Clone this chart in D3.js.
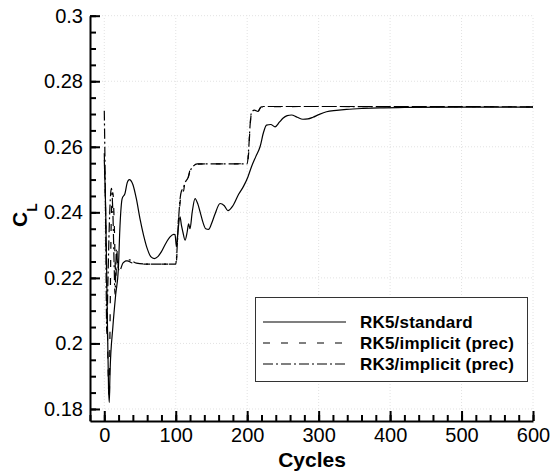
<!DOCTYPE html>
<html>
<head>
<meta charset="utf-8">
<script src="https://cdn.jsdelivr.net/npm/d3@7"></script>
<style>
  body { margin: 0; background: #fff; }
  text { font-family: Arial, "Liberation Sans", sans-serif; }
</style>
</head>
<body>
<div id="chart"></div>
<script>
// data: [cycle, CL]
var rk5Standard = [
  [0, 0.256], [2, 0.240], [4, 0.212], [6, 0.186], [7, 0.182], [8, 0.191], [12, 0.205],
  [16, 0.215], [19.6, 0.2224], [22, 0.236], [25, 0.2442], [29, 0.2458], [32, 0.249],
  [35, 0.250], [40, 0.2485], [45, 0.244], [50, 0.238], [55, 0.233], [60, 0.229],
  [65, 0.2265], [70, 0.2259], [75, 0.2265], [80, 0.228], [86, 0.2305], [92, 0.2325],
  [97, 0.2333], [99, 0.2332], [101, 0.2295], [103, 0.234], [106, 0.2386], [108, 0.236],
  [110, 0.234], [113, 0.2315], [116, 0.234], [118, 0.2365], [120, 0.235], [123, 0.240],
  [127, 0.2442], [131, 0.2425], [134, 0.2402], [138, 0.237], [142, 0.235], [146, 0.2348],
  [150, 0.2365], [155, 0.2395], [162, 0.2427], [168, 0.242], [173, 0.2405], [180, 0.242],
  [188, 0.2455], [195, 0.248], [201, 0.2508], [206, 0.2539], [212, 0.257], [218, 0.260],
  [223, 0.2645], [227, 0.2666], [233, 0.2668], [239, 0.2661], [245, 0.2675], [250, 0.2687],
  [256, 0.2695], [262, 0.2697], [270, 0.269], [278, 0.2684], [285, 0.2685], [292, 0.269],
  [300, 0.2698], [311, 0.2707], [325, 0.2711], [339, 0.2714], [362, 0.2717], [386, 0.2719],
  [420, 0.272], [500, 0.2721], [600, 0.2721]
];
var rk5Implicit = [
  [0, 0.258], [2, 0.238], [4, 0.210], [6, 0.186], [7, 0.183], [8, 0.205], [10, 0.240],
  [12, 0.246], [14, 0.236], [16, 0.220], [18, 0.228], [20, 0.2225], [23, 0.2235],
  [27, 0.225], [32, 0.2252], [40, 0.2245], [60, 0.2242], [80, 0.2242], [100, 0.2243],
  [101, 0.225], [103, 0.235], [106, 0.2427], [108, 0.2468], [111, 0.2465], [113, 0.2498],
  [116, 0.2495], [120, 0.2529], [124, 0.2538], [129, 0.2547], [150, 0.2548], [180, 0.2548],
  [200, 0.2549], [202, 0.258], [204, 0.266], [206, 0.2702], [211, 0.271], [215, 0.2707],
  [218, 0.2718], [220, 0.2722], [300, 0.2723], [600, 0.2722]
];
var rk3Implicit = [
  [0, 0.271], [1, 0.255], [2, 0.235], [3.5, 0.203], [5, 0.218], [7, 0.236], [9, 0.246],
  [10, 0.2473], [12, 0.240], [14, 0.222], [15, 0.215], [17, 0.2285], [19, 0.2235],
  [22, 0.2225], [26, 0.2245], [35, 0.2255], [45, 0.2245], [60, 0.2242], [100, 0.2242],
  [101, 0.226], [104, 0.238], [106, 0.244], [108, 0.2465], [111, 0.2475], [113, 0.249],
  [117, 0.2505], [120, 0.2525], [125, 0.2542], [130, 0.2548], [200, 0.2548], [202, 0.259],
  [204, 0.2665], [206, 0.2705], [210, 0.2712], [215, 0.2708], [219, 0.272], [222, 0.2723],
  [600, 0.2722]
];
var seriesNames = ["RK5/standard", "RK5/implicit (prec)", "RK3/implicit (prec)"];
var xTicks = [0, 100, 200, 300, 400, 500, 600];
var yTicks = [0.18, 0.2, 0.22, 0.24, 0.26, 0.28, 0.3];

var width = 555, height = 475;
var dashes = ["none", "7,11", "10,3,2,3"];

var svg = d3.select("#chart")
  .append("svg")
    .attr("width", width)
    .attr("height", height);

var x = d3.scaleLinear()
  .domain([-20, 600])
  .range([90, 533]);

var y = d3.scaleLinear()
  .domain([0.17633, 0.3])
  .range([421, 15.7]);

// faint dotted grid
svg.append("g")
  .selectAll("line")
  .data(xTicks)
  .enter()
  .append("line")
    .attr("x1", d => x(d)).attr("x2", d => x(d))
    .attr("y1", y.range()[0]).attr("y2", y.range()[1])
    .attr("stroke", "#e2e2e2").attr("stroke-dasharray", "1,2");
svg.append("g")
  .selectAll("line")
  .data(yTicks)
  .enter()
  .append("line")
    .attr("y1", d => y(d)).attr("y2", d => y(d))
    .attr("x1", x.range()[0]).attr("x2", x.range()[1])
    .attr("stroke", "#e2e2e2").attr("stroke-dasharray", "1,2");

// curves
var line = d3.line()
  .x(d => x(d[0]))
  .y(d => y(d[1]))
  .curve(d3.curveMonotoneX);

[rk5Standard, rk5Implicit, rk3Implicit].forEach(function(s, i) {
  svg.append("path")
    .datum(s)
    .attr("fill", "none")
    .attr("stroke", "#000")
    .attr("stroke-width", 1.2)
    .attr("stroke-dasharray", dashes[i])
    .attr("d", line);
});

// axes: ticks point inward
var xMinor = d3.range(-20, 601, 20);
var yMinor = d3.range(0, 25).map(i => 0.18 + i * 0.005);

svg.append("g")
  .attr("transform", "translate(0," + y.range()[0] + ")")
  .call(d3.axisTop(x).tickValues(xMinor).tickSize(6).tickFormat(""))
  .call(g => g.select(".domain").remove());
var xAxis = svg.append("g")
  .attr("transform", "translate(0," + y.range()[0] + ")")
  .call(d3.axisTop(x).tickValues(xTicks).tickSize(10).tickSizeOuter(0).tickFormat(d3.format("d")));
xAxis.selectAll("text")
  .attr("y", 21).attr("dy", 0)
  .style("font-size", "20px").attr("fill", "#000");

svg.append("g")
  .attr("transform", "translate(" + x.range()[0] + ",0)")
  .call(d3.axisRight(y).tickValues(yMinor).tickSize(6).tickFormat(""))
  .call(g => g.select(".domain").remove());
var yAxis = svg.append("g")
  .attr("transform", "translate(" + x.range()[0] + ",0)")
  .call(d3.axisRight(y).tickValues(yTicks).tickSize(10).tickSizeOuter(0).tickFormat(d3.format("")));
yAxis.selectAll("text")
  .attr("x", -7).attr("text-anchor", "end")
  .style("font-size", "20px").attr("fill", "#000");

svg.selectAll(".domain, .tick line")
  .attr("stroke", "#000").attr("stroke-width", 2);

// axis titles
svg.append("text")
  .attr("x", 312).attr("y", 467)
  .attr("text-anchor", "middle")
  .style("font-size", "21px").style("font-weight", "bold")
  .text("Cycles");

var yTitle = svg.append("text")
  .attr("transform", "translate(27,227) rotate(-90)")
  .style("font-size", "21px").style("font-weight", "bold");
yTitle.append("tspan").text("C");
yTitle.append("tspan").attr("dy", 10).style("font-size", "14px").text("L");

// legend
var legend = svg.append("g");
legend.append("rect")
  .attr("x", 255.5).attr("y", 297.5)
  .attr("width", 272).attr("height", 84)
  .attr("fill", "#fff").attr("stroke", "#333");
seriesNames.forEach(function(name, i) {
  var ly = 322 + i * 21;
  legend.append("line")
    .attr("x1", 263).attr("x2", 346)
    .attr("y1", ly).attr("y2", ly)
    .attr("stroke", "#000").attr("stroke-width", 1.2)
    .attr("stroke-dasharray", dashes[i]);
  legend.append("text")
    .attr("x", 360).attr("y", ly + 6)
    .style("font-size", "17px").style("font-weight", "bold")
    .style("letter-spacing", "0.2px")
    .text(name);
});
</script>
</body>
</html>
